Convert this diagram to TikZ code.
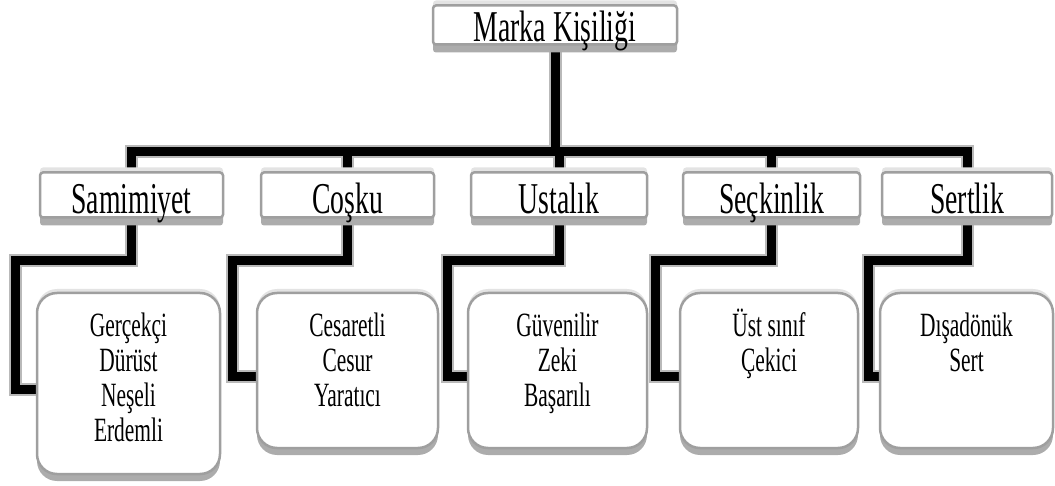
\documentclass[tikz,border=0pt]{standalone}
\usepackage{fontspec}
\setmainfont{Liberation Serif}
\usepackage{graphicx}
\usetikzlibrary{shadows}
\pgfdeclarelayer{wires}
\pgfsetlayers{wires,main}
% narrow, tall lettering used throughout the chart
\newcommand\sqz[1]{\scalebox{0.63}[1]{#1}}
\begin{document}
\begin{tikzpicture}[x=1pt,y=-1pt,
  box/.style={draw=gray!75, line width=2.5pt, fill=white, rounded corners=3pt, inner sep=0pt,
    general shadow={fill=gray!22, shadow yshift=5pt},
    general shadow={fill=gray!65, shadow yshift=-8pt}},
  traitbox/.style={draw=gray!75, line width=2.5pt, fill=white, rounded corners=20pt, inner sep=0pt,
    general shadow={fill=gray!22, shadow yshift=4pt},
    general shadow={fill=gray!65, shadow yshift=-7pt}},
  head/.style={anchor=base, inner sep=0pt, font=\fontsize{44}{48}\selectfont},
  words/.style={anchor=base, inner sep=0pt, font=\fontsize{34}{35}\selectfont},
  halo/.style={draw=gray!55, line width=13pt},
  core/.style={draw=black, line width=9pt}]

\useasboundingbox (0,0) rectangle (1055,486);

% boxes
\node[box, minimum width=244pt, minimum height=39pt] (top) at (555,25) {};
\node[box, minimum width=183pt, minimum height=45pt] (s1) at (131.5,195) {};
\node[box, minimum width=173pt, minimum height=45pt] (s2) at (347.5,195) {};
\node[box, minimum width=176pt, minimum height=45pt] (s3) at (559,195) {};
\node[box, minimum width=177pt, minimum height=45pt] (s4) at (771.5,195) {};
\node[box, minimum width=170pt, minimum height=45pt] (s5) at (967,195) {};
\node[traitbox, minimum width=183pt, minimum height=181pt] (t1) at (128.5,383.5) {};
\node[traitbox, minimum width=181pt, minimum height=155pt] (t2) at (347.5,370.5) {};
\node[traitbox, minimum width=179pt, minimum height=155pt] (t3) at (557.5,370.5) {};
\node[traitbox, minimum width=178pt, minimum height=155pt] (t4) at (769,370.5) {};
\node[traitbox, minimum width=173pt, minimum height=155pt] (t5) at (966.5,370.5) {};

% connector bends
\coordinate (bar) at (555,152);
\coordinate (k1) at (15,261);
\coordinate (k2) at (232,261);
\coordinate (k3) at (447,261);
\coordinate (k4) at (655,261);
\coordinate (k5) at (868,261);

\newcommand\wires{%
  \draw[wire] (top.south) -- (top.south |- bar);
  \draw[wire, line cap=rect] (s1.north |- bar) -- (s5.north |- bar);
  \foreach \i in {1,...,5} {
    \draw[wire] (s\i.north |- bar) -- (s\i.north);
    \draw[wire] (s\i.south) |- (k\i) |- ([yshift=-6pt]t\i.west);
  }}

% connectors behind the boxes: grey rim first, black core on top
\begin{pgfonlayer}{wires}
\tikzset{wire/.style={halo}}
\wires
\tikzset{wire/.style={core}}
\wires
\end{pgfonlayer}

% labels
\node[head] (topx) at (555,42) {\sqz{Marka Kişiliği}};
\node[head] (s1x) at (s1 |- 0,214) {\sqz{Samimiyet}};
\node[head] (s2x) at (s2 |- 0,214) {\sqz{Coşku}};
\node[head] (s3x) at (s3 |- 0,214) {\sqz{Ustalık}};
\node[head] (s4x) at (s4 |- 0,214) {\sqz{Seçkinlik}};
\node[head] (s5x) at (s5 |- 0,214) {\sqz{Sertlik}};

\node[words] (t1x) at (t1 |- 0,337) {\sqz{\begin{tabular}[t]{@{}c@{}}Gerçekçi\\Dürüst\\Neşeli\\Erdemli\end{tabular}}};
\node[words] (t2x) at (t2 |- 0,337) {\sqz{\begin{tabular}[t]{@{}c@{}}Cesaretli\\Cesur\\Yaratıcı\end{tabular}}};
\node[words] (t3x) at (t3 |- 0,337) {\sqz{\begin{tabular}[t]{@{}c@{}}Güvenilir\\Zeki\\Başarılı\end{tabular}}};
\node[words] (t4x) at (t4 |- 0,337) {\sqz{\begin{tabular}[t]{@{}c@{}}Üst sınıf\\Çekici\end{tabular}}};
\node[words] (t5x) at (t5 |- 0,337) {\sqz{\begin{tabular}[t]{@{}c@{}}Dışadönük\\Sert\end{tabular}}};
\end{tikzpicture}
\end{document}
